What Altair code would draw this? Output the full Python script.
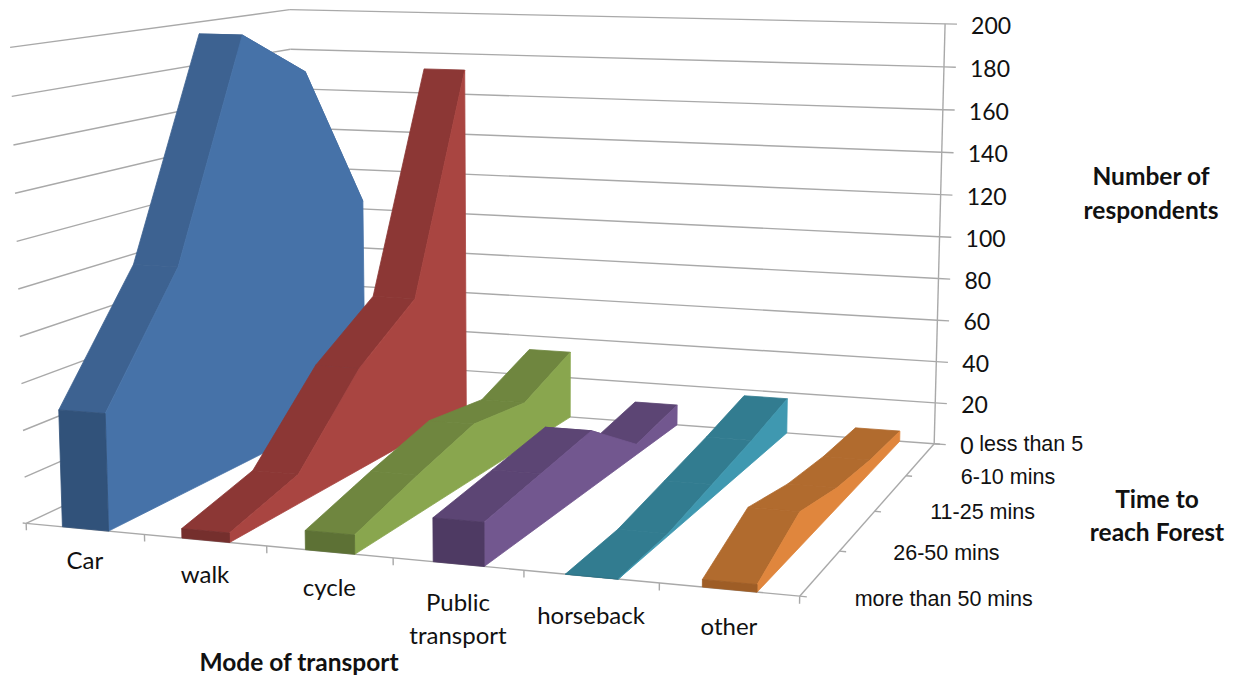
import altair as alt
import numpy as np
import pandas as pd

# Respondents per travel time, front of the floor (longest trip) to the back wall.
TIME_LABELS = ["more than 50 mins", "26-50 mins", "11-25 mins", "6-10 mins", "less than 5"]
MODES = ["Car", "walk", "cycle", "Public transport", "horseback", "other"]
CAR = [50, 101, 197, 175, 104]
WALK = [4, 13, 47, 68, 172]
CYCLE = [8, 17, 25, 21, 33]
PUBLIC = [18, 22, 26, 5, 10]
HORSEBACK = [0, 1, 6, 11, 17]
OTHER = [3, 15, 9, 6, 5]
SERIES = [CAR, WALK, CYCLE, PUBLIC, HORSEBACK, OTHER]
VALUE_TICKS = list(range(0, 201, 20))

# Face shades per series: right wall, top surface, front end.
SHADES = [
    ("#4672A8", "#3D6291", "#31527A"),
    ("#A94541", "#8C3735", "#752F2D"),
    ("#89A64E", "#6F863F", "#5D7135"),
    ("#72578F", "#5C4574", "#4E3A63"),
    ("#3F98B0", "#327C90", "#2F7386"),
    ("#E0863D", "#B16B2E", "#9E5D26"),
]

WIDTH, HEIGHT = 1238, 677
LINE = "#a9a9a9"
TEXT = "#111111"
BODY_FONT = "Lato"
AXIS_FONT = "Liberation Sans"

# Perspective camera fitted to where the corners of the chart box land on the page.
BOX = [
    ((0, 0, 0), (26, 522)),
    ((6, 0, 0), (800, 597)),
    ((6, 4, 0), (934, 443)),
    ((0, 4, 0), (296, 398)),
    ((0, 0, 200), (10, 48)),
    ((0, 4, 200), (290, 9)),
    ((6, 4, 200), (945, 24)),
]


def fit_camera(pairs):
    rows = []
    for (a, b, c), (u, v) in pairs:
        p = [a / 6, b / 4, c / 200, 1]
        rows.append(p + [0, 0, 0, 0] + [-u * q for q in p])
        rows.append([0, 0, 0, 0] + p + [-v * q for q in p])
    return np.linalg.svd(np.array(rows, float))[2][-1].reshape(3, 4)


CAMERA = fit_camera(BOX)


def project(a, b, c):
    h = CAMERA @ np.array([a / 6, b / 4, c / 200, 1.0])
    return float(h[0] / h[2]), float(h[1] / h[2])


def polygon_rows(points, fill, pid):
    """Slice an x-monotone polygon into x / y / y2 rows for an area mark."""
    rows = []
    edges = list(zip(points, points[1:] + points[:1]))
    for x in sorted({round(p[0], 3) for p in points}):
        hits = []
        for (x0, y0), (x1, y1) in edges:
            lo, hi = min(x0, x1), max(x0, x1)
            if lo - 1e-3 <= x <= hi + 1e-3:
                if abs(x1 - x0) < 1e-6:
                    hits += [y0, y1]
                else:
                    hits.append(y0 + (y1 - y0) * (x - x0) / (x1 - x0))
        rows.append({"x": x, "y": min(hits), "y2": max(hits), "fill": fill, "pid": pid})
    return rows


RIBBON_LEFT, RIBBON_RIGHT = 0.31, 0.70
faces = []
pid = 0
for i, values in enumerate(SERIES):
    side, top, front = SHADES[i]
    left, right = i + RIBBON_LEFT, i + RIBBON_RIGHT
    # Painted back to front so nearer surfaces cover farther ones.
    for d in range(len(values) - 2, -1, -1):
        quad = [project(left, d, values[d]), project(right, d, values[d]),
                project(right, d + 1, values[d + 1]), project(left, d + 1, values[d + 1])]
        faces += polygon_rows(quad, top, pid)
        pid += 1
    wall = [project(right, d, v) for d, v in enumerate(values)]
    wall += [project(right, len(values) - 1, 0), project(right, 0, 0)]
    faces += polygon_rows(wall, side, pid)
    pid += 1
    end = [project(left, 0, values[0]), project(right, 0, values[0]),
           project(right, 0, 0), project(left, 0, 0)]
    faces += polygon_rows(end, front, pid)
    pid += 1

segments = []


def segment(a, b):
    (x0, y0), (x1, y1) = project(*a), project(*b)
    segments.append({"x": x0, "y": y0, "x2": x1, "y2": y1})


for v in VALUE_TICKS:
    segment((0, 0, v), (0, 4, v))
    segment((0, 4, v), (6, 4, v))
    segment((6, 4, v), (6.1, 4, v))
segment((6, 4, 0), (6, 4, 200))
segment((0, 0, 0), (6, 0, 0))
segment((6, 0, 0), (6, 4, 0))
for i in range(7):
    segment((i, 0, 0), (i, 0, -3))
for d in range(5):
    segment((6, d, 0), (6.05, d, 0))
segment((0, 0, 0), (-0.03, 0, 0))

labels = []


def label(text, x, y, size, font, weight="normal", align="center"):
    labels.append({"text": text, "x": x, "y": y, "size": size, "font": font,
                   "weight": weight, "align": align})


for v in VALUE_TICKS:
    px, py = project(6, 4, v)
    label(str(v), px + 26, py + 3, 23, BODY_FONT, align="left")

# Category labels hang below the floor edge.
MODE_LINES = [["Car"], ["walk"], ["cycle"], ["Public", "transport"], ["horseback"], ["other"]]
MODE_DROP = [33, 36, 37, 40, 40, 38]
for i, lines in enumerate(MODE_LINES):
    px, py = project(i + 0.5, 0, 0)
    for n, line in enumerate(lines):
        label(line, px, py + MODE_DROP[i] + 33 * n, 24, BODY_FONT)

# Depth labels sit right of their axis ticks.
TIME_SHIFT = [144, 107, 108, 102, 97]
TIME_DROP = [4, 3, 2, 2, 1]
for d, name in enumerate(TIME_LABELS):
    px, py = project(6, d, 0)
    label(name, px + TIME_SHIFT[d], py + TIME_DROP[d], 21.5, AXIS_FONT)

label("Mode of transport", 299, 664, 24.5, BODY_FONT, "bold")
label("Number of", 1151, 178, 24.5, BODY_FONT, "bold")
label("respondents", 1151, 212, 24.5, BODY_FONT, "bold")
label("Time to", 1157, 501, 24.5, BODY_FONT, "bold")
label("reach Forest", 1157, 534, 24.5, BODY_FONT, "bold")

x_scale = alt.Scale(domain=[0, WIDTH], range=[0, WIDTH], nice=False, zero=False)
y_scale = alt.Scale(domain=[HEIGHT, 0], range=[HEIGHT, 0], nice=False, zero=False)
x_enc = alt.X("x:Q", scale=x_scale, axis=None)
y_enc = alt.Y("y:Q", scale=y_scale, axis=None)

grid = alt.Chart(pd.DataFrame(segments)).mark_rule(color=LINE, strokeWidth=1.4).encode(
    x=x_enc, y=y_enc, x2="x2:Q", y2="y2:Q"
)

# A hairline stroke in each face's own colour closes the seams between neighbours.
ribbons = alt.Chart(pd.DataFrame(faces)).mark_area(interpolate="linear", strokeWidth=0.8).encode(
    x=x_enc,
    y=alt.Y("y:Q", scale=y_scale, axis=None, stack=None),
    y2="y2:Q",
    color=alt.Color("fill:N", scale=None),
    stroke=alt.Stroke("fill:N", scale=None),
    detail="pid:N",
)

text_layers = []
table = pd.DataFrame(labels)
for (size, font, weight, align), part in table.groupby(["size", "font", "weight", "align"]):
    text_layers.append(
        alt.Chart(part).mark_text(
            fontSize=size, font=font, fontWeight=weight, align=align,
            baseline="middle", color=TEXT,
        ).encode(x=x_enc, y=y_enc, text="text:N")
    )

chart = alt.layer(grid, ribbons, *text_layers).properties(
    width=WIDTH, height=HEIGHT, padding=0, background="white",
    autosize=alt.AutoSizeParams(type="none"),
).configure_view(stroke=None)

chart.save("out.html", embed_options={"renderer": "svg", "actions": False})
